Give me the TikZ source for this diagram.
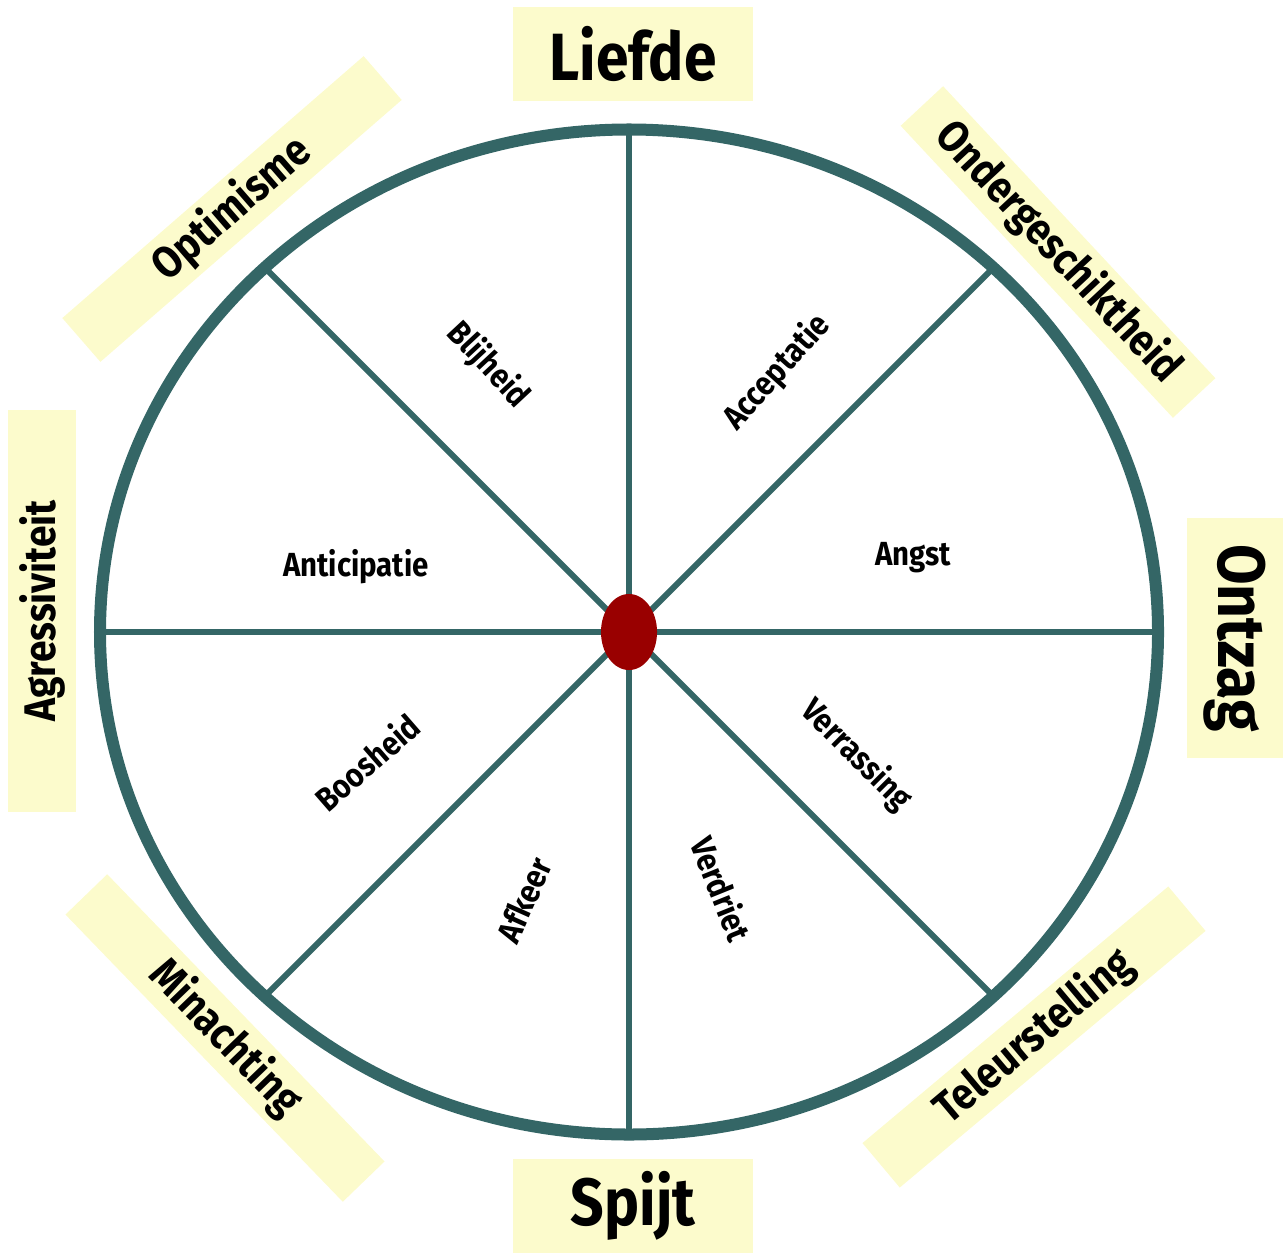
\documentclass[tikz,border=0pt]{standalone}
\usepackage{fontspec}
\setmainfont{Fira Sans}[FakeStretch=0.88]
\usepackage{tikz}
\usetikzlibrary{calc,shapes.geometric}
\definecolor{rimteal}{RGB}{52,102,102}
\definecolor{hubred}{RGB}{153,0,0}
\definecolor{boxcream}{RGB}{252,251,204}
\tikzset{
  rimline/.style   = {rimteal,line width=1.2mm},
  spokeline/.style = {rimteal,line width=0.6mm},
  hubdot/.style    = {ellipse,fill=hubred,minimum width=5.6mm,minimum height=7.6mm,inner sep=0pt},
  bigbox/.style    = {fill=boxcream,font=\fontsize{19}{19}\selectfont\bfseries,
                      minimum width=23.9mm,minimum height=9.3mm,inner sep=0pt},
  slantbox/.style  = {fill=boxcream,font=\fontsize{12.6}{12.6}\selectfont\bfseries,
                      minimum width=39.9mm,minimum height=5.8mm,inner sep=0pt},
  emotion/.style   = {font=\fontsize{9.5}{9.5}\selectfont\bfseries,inner sep=0pt}
}

\begin{document}
\begin{tikzpicture}[x=0.01cm,y=-0.01cm]
  \useasboundingbox (0,0) rectangle (1283,1252);
  \coordinate (c) at (629,632);
  \foreach \a/\r in {0/529,45/515,90/502.5,135/515,180/529,225/515,270/502.5,315/515}
    \coordinate (rim\a) at ($(c)+(\a:\r)$);
  \foreach \a/\b in {0/180,45/225,90/270,135/315}
    \draw[spokeline] (rim\a) -- (rim\b);
  \draw[rimline] (c) ellipse [x radius=529,y radius=502.5];
  \node[hubdot] (hub) at (c) {};

  \node[bigbox] (liefde) at (633,54) {Liefde};
  \node[bigbox] (spijt) at (633,1206) {Spijt};
  \node[bigbox,rotate=-90,minimum width=24mm,minimum height=9.6mm] (ontzag) at (1235,638) {Ontzag};
  \node[slantbox,rotate=90,minimum width=40.1mm,minimum height=6.7mm] (agressiviteit) at (42,611) {Agressiviteit};
  \node[slantbox,rotate=41] (optimisme) at (232,209) {Optimisme};
  \node[slantbox,rotate=-47] (ondergeschiktheid) at (1058,252) {Ondergeschiktheid};
  \node[slantbox,rotate=-46] (minachting) at (225,1038) {Minachting};
  \node[slantbox,rotate=40] (teleurstelling) at (1034,1037) {Teleurstelling};

  \foreach \nm/\x/\y/\rot in {Blijheid/488/365/-47,Acceptatie/777/372/48,
      Anticipatie/356/567/0,Angst/913/558/0,Boosheid/367/762/41,
      Verrassing/856/755/-45,Afkeer/524/900/66,Verdriet/722/889/-68}
    \node[emotion,rotate=\rot] (\nm) at (\x,\y) {\nm};
\end{tikzpicture}
\end{document}
